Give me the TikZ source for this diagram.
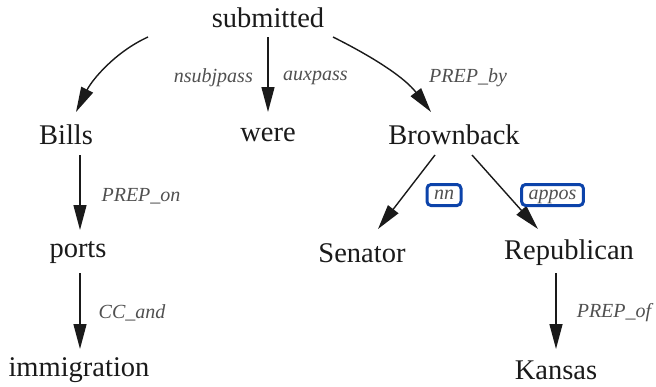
\documentclass[tikz,border=0pt]{standalone}
\usepackage{fontspec}
\setmainfont{Liberation Serif}
\usetikzlibrary{arrows.meta}
\definecolor{lblgray}{HTML}{505050}
\definecolor{boxblue}{HTML}{0C43AA}
\definecolor{ink}{HTML}{1A1A1A}
\tikzset{
  word/.style={font=\fontsize{28.5}{31}\selectfont, text=ink, inner sep=0pt},
  rel/.style={font=\fontsize{20}{22}\itshape\selectfont, text=lblgray, inner sep=1pt},
  hl/.style={draw=boxblue, line width=3pt, rounded corners=4pt, inner xsep=7pt,
    inner ysep=0pt, minimum height=21pt, text height=10pt, text depth=1pt},
  dep/.style={-{Triangle[length=25pt,width=13pt]}, line width=1.4pt, ink},
}
\begin{document}
\begin{tikzpicture}[x=1pt,y=-1pt]
\useasboundingbox (0,0) rectangle (656,386);
% words of the sentence
\node[word] (sub) at (268,18) {submitted};
\node[word] (bills) at (66,135) {Bills};
\node[word] (were) at (268,135) {were};
\node[word] (brown) at (454,135) {Brownback};
\node[word] (ports) at (78,253) {ports};
\node[word] (sen) at (362,253) {Senator};
\node[word] (rep) at (569,253) {Republican};
\node[word] (imm) at (79,370) {immigration};
\node[word] (kan) at (556,370) {Kansas};
% end points of the dependency edges
\coordinate (s1) at (148,37);
\coordinate (s2) at (268,37);
\coordinate (s3) at (333,37);
\coordinate (b1) at (76,112);
\coordinate (w1) at (268,112);
\coordinate (r1) at (431,112);
\coordinate (bp0) at (80,155);
\coordinate (bp1) at (80,230);
\coordinate (pi0) at (80,273);
\coordinate (pi1) at (80,349);
\coordinate (bs0) at (435,155);
\coordinate (bs1) at (378,229);
\coordinate (br0) at (472,155);
\coordinate (br1) at (538,229);
\coordinate (rk0) at (556,273);
\coordinate (rk1) at (556,349);
% dependency edges
\draw[dep] (s1) .. controls (115,52) and (92,80) .. (b1);
\draw[dep] (s2) -- (w1);
\draw[dep] (s3) .. controls (375,58) and (405,78) .. (r1);
\draw[dep] (bp0) -- (bp1);
\draw[dep] (pi0) -- (pi1);
\draw[dep] (bs0) -- (bs1);
\draw[dep] (br0) -- (br1);
\draw[dep] (rk0) -- (rk1);
% relation labels
\node[rel, anchor=east] (l1) at (254,78) {nsubjpass};
\node[rel, anchor=west] (l2) at (282,78) {auxpass};
\node[rel] (l3) at (468,78) {PREP\_by};
\node[rel] (l4) at (141,196) {PREP\_on};
\node[rel] (l5) at (132,313) {CC\_and};
\node[rel, hl] (l6) at (444,195) {nn};
\node[rel, hl] (l7) at (552.5,195) {appos};
\node[rel] (l8) at (614,313) {PREP\_of};
\end{tikzpicture}
\end{document}
